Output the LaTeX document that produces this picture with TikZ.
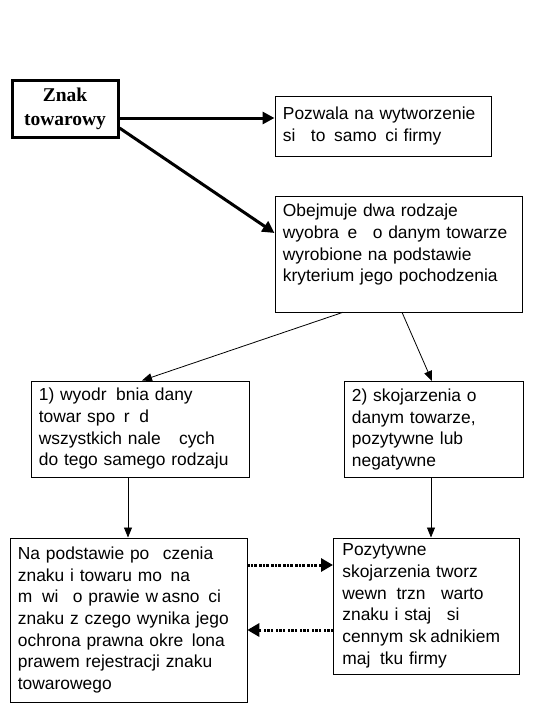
\documentclass[tikz,border=0pt]{standalone}
\usepackage{fontspec}
\setmainfont{Liberation Sans}
\newfontfamily\serifbold{Liberation Serif}
\usetikzlibrary{arrows.meta}
\newcommand\gp[1]{\phantom{#1}}
\begin{document}
\begin{tikzpicture}[x=1pt,y=-1pt,
  box/.style={draw, line width=0.8pt, anchor=north west, align=left,
    inner xsep=8pt, inner ysep=0pt, font=\fontsize{17.4}{21.7}\selectfont},
  mainbox/.style={draw, line width=3pt, anchor=north west, align=center,
    inner sep=0pt, font=\serifbold\bfseries\fontsize{19.5}{24}\selectfont},
  arr/.style={line width=0.8pt, -{Triangle[length=10pt,width=8pt]}},
  thickarr/.style={line width=3pt, -{Triangle[length=12pt,width=12pt]}},
  dotarr/.style={line width=3pt,
    dash pattern=on 2.5pt off 1pt on 2.5pt off 1pt on 2.5pt off 2.5pt,
    -{Triangle[length=12pt,width=13pt]}}]
\useasboundingbox (0,0) rectangle (549,704);

\node[mainbox, minimum width=106pt, minimum height=57pt] (b1) at (10.5,78.5)
  {Znak\\towarowy};
\node[box, text width=200pt, minimum height=60pt] (b2) at (274.5,95.5)
  {Pozwala na wytworzenie\\si\gp{ę} to\gp{ż}samo\gp{ś}ci firmy};
\node[box, text width=231pt, minimum height=116pt] (b3) at (274.5,195.5)
  {Obejmuje dwa rodzaje\\wyobra\gp{ż}e\gp{ń} o danym towarze\\wyrobione na podstawie\\kryterium jego pochodzenia\\\mbox{}};
\node[box, text width=202pt, minimum height=96pt] (b4) at (30.5,380.5)
  {1) wyodr\gp{ę}bnia dany\\towar spo\gp{ś}r\gp{ó}d\\wszystkich nale\gp{żą}cych\\do tego samego rodzaju};
\node[box, text width=163pt, minimum height=96pt] (b5) at (343.5,381)
  {2) skojarzenia o\\danym towarze,\\pozytywne lub\\negatywne};
\node[box, text width=221pt, minimum height=164pt] (b6) at (9.5,537.5)
  {Na podstawie po\gp{łą}czenia\\znaku i towaru mo\gp{ż}na\\m\gp{ó}wi\gp{ć} o prawie w\gp{ł}asno\gp{ś}ci\\znaku z czego wynika jego\\ochrona prawna okre\gp{ś}lona\\prawem rejestracji znaku\\towarowego};
\node[box, inner xsep=9pt, text width=168pt, minimum height=136pt] (b7) at (333,537.5)
  {Pozytywne\\skojarzenia tworz\gp{ą}\\wewn\gp{ę}trzn\gp{ą} warto\gp{ść}\\znaku i staj\gp{ą} si\gp{ę}\\cennym sk\gp{ł}adnikiem\\maj\gp{ą}tku firmy};

\draw[thickarr] (b1.east |- 0,118) -- (b2.west |- 0,118);
\draw[thickarr] (b1.east |- 0,128) -- (b3.west |- 0,233);
\draw[arr] (b3.south -| 343,0) -- (b4.north -| 142,0);
\draw[arr] (b3.south -| 402,0) -- (b5.north -| 432,0);
\draw[arr] (b4.south -| 128,0) -- (b6.north -| 128,0);
\draw[arr] (b5.south -| 431,0) -- (b7.north -| 431,0);
\draw[dotarr] (b6.east |- 0,565) -- (b7.west |- 0,565);
\draw[dotarr] (b7.west |- 0,630) -- (b6.east |- 0,630);
\end{tikzpicture}
\end{document}
